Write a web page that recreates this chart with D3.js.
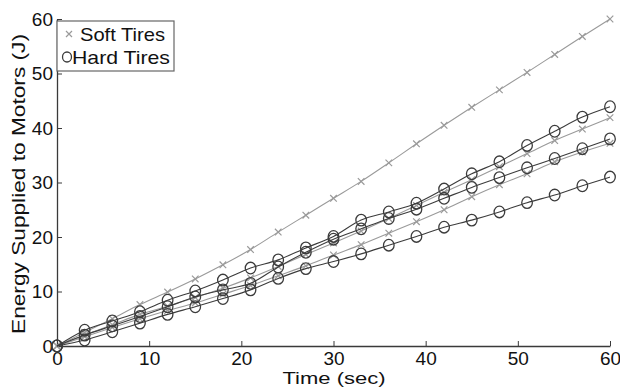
<!DOCTYPE html>
<html><head><meta charset="utf-8">
<script src="https://cdn.jsdelivr.net/npm/d3@7"></script>
<style>body{margin:0;background:#fff;} text{font-family:"Liberation Sans",Arial,sans-serif;}</style>
</head><body><svg id="c" width="620" height="388"></svg>
<script>
const time = [0,3,6,9,12,15,18,21,24,27,30,33,36,39,42,45,48,51,54,57,60];
const soft1 = [0,2.5,5.0,7.6,9.9,12.3,14.9,17.7,20.9,24.0,27.1,30.2,33.6,37.1,40.5,43.8,47.0,50.2,53.5,56.8,60.0];
const soft2 = [0,2.0,3.9,5.8,7.3,8.9,10.6,12.5,14.6,16.8,18.9,21.1,23.4,25.8,28.2,30.5,32.9,35.3,37.7,39.8,41.9];
const soft3 = [0,1.7,3.4,5.0,6.5,7.9,9.5,11.1,12.9,14.7,16.7,18.6,20.7,22.8,25.0,27.4,29.6,31.6,33.8,35.6,37.2];
const hard1 = [0,2.9,4.6,6.3,8.4,10.1,12.1,14.3,15.8,18.0,20.1,23.1,24.6,26.2,28.8,31.6,33.8,36.8,39.4,42.0,43.9];
const hard2 = [0,2.0,3.7,5.4,7.2,9.0,10.3,11.5,14.5,17.2,19.6,21.5,23.4,25.1,27.1,29.1,30.9,32.7,34.4,36.2,38.0];
const hard3 = [0,1.1,2.6,4.2,5.8,7.2,8.7,10.3,12.4,14.2,15.5,16.9,18.5,20.1,21.8,23.1,24.6,26.3,27.7,29.4,31.0];
const xTicks = [0,10,20,30,40,50,60];
const yTicks = [0,10,20,30,40,50,60];
const legendLabels = ["Soft Tires","Hard Tires"];

const svg = d3.select("#c");
const x = d3.scaleLinear().domain([0,60]).range([57,610]);
const y = d3.scaleLinear().domain([0,60]).range([346,19]);
const axisCol = "#3a3a3a", softCol = "#9a9a9a", hardCol = "#3c3c3c";

// axes
const gx = svg.append("g").attr("transform","translate(0,346)")
  .call(d3.axisBottom(x).tickValues(xTicks).tickSizeInner(-5).tickSizeOuter(0).tickPadding(6));
const gy = svg.append("g").attr("transform","translate(57,0)")
  .call(d3.axisLeft(y).tickValues(yTicks).tickSizeInner(-5).tickSizeOuter(0).tickPadding(4));
[gx,gy].forEach(g=>{
  g.select(".domain").attr("stroke",axisCol).attr("stroke-width",1.3);
  g.selectAll(".tick line").attr("stroke",axisCol);
  g.selectAll("text").attr("font-size",19).attr("fill","#111").attr("font-family","Liberation Sans, Arial, sans-serif");
});

const line = d3.line().x((d,i)=>x(time[i])).y(d=>y(d)).curve(d3.curveMonotoneX);
const softs = [soft1,soft2,soft3], hards = [hard1,hard2,hard3];

function drawX(g, cx, cy, s, col){
  g.append("path").attr("d",`M${cx-s},${cy-s}L${cx+s},${cy+s}M${cx-s},${cy+s}L${cx+s},${cy-s}`)
   .attr("stroke",col).attr("stroke-width",1.2).attr("fill","none");
}

softs.forEach(s=>{
  svg.append("path").datum(s).attr("d",line).attr("fill","none").attr("stroke",softCol).attr("stroke-width",1.1);
  const g = svg.append("g");
  s.forEach((v,i)=>drawX(g, x(time[i]), y(v), 3.3, softCol));
});
hards.forEach(s=>{
  svg.append("path").datum(s).attr("d",line).attr("fill","none").attr("stroke",hardCol).attr("stroke-width",1.1);
  svg.append("g").selectAll("ellipse").data(s).join("ellipse")
    .attr("cx",(d,i)=>x(time[i])).attr("cy",d=>y(d)).attr("rx",5.3).attr("ry",5.8)
    .attr("fill","none").attr("stroke",hardCol).attr("stroke-width",1.3);
});

// axis titles
svg.append("text").attr("x",334).attr("y",384).attr("text-anchor","middle").attr("font-size",17)
  .attr("textLength",103).attr("lengthAdjust","spacingAndGlyphs").attr("fill","#111").text("Time (sec)");
svg.append("text").attr("transform","translate(25,184) rotate(-90)").attr("text-anchor","middle").attr("font-size",19)
  .attr("textLength",300).attr("lengthAdjust","spacingAndGlyphs").attr("fill","#111").text("Energy Supplied to Motors (J)");

// legend
const lg = svg.append("g");
lg.append("rect").attr("x",57).attr("y",21).attr("width",117).attr("height",50).attr("fill","#fff").attr("stroke","#666").attr("stroke-width",1.2);
drawX(lg, 69, 34, 3, softCol);
lg.append("ellipse").attr("cx",67).attr("cy",57).attr("rx",4.5).attr("ry",5).attr("fill","none").attr("stroke",hardCol).attr("stroke-width",1.3);
const lx = [80,72], lw = [85,98];
lg.selectAll("text.l").data(legendLabels).join("text").attr("class","l")
  .attr("x",(d,i)=>lx[i]).attr("y",(d,i)=>41+i*23).attr("font-size",19)
  .attr("textLength",(d,i)=>lw[i]).attr("lengthAdjust","spacingAndGlyphs").attr("fill","#111").text(d=>d);
</script></body></html>
